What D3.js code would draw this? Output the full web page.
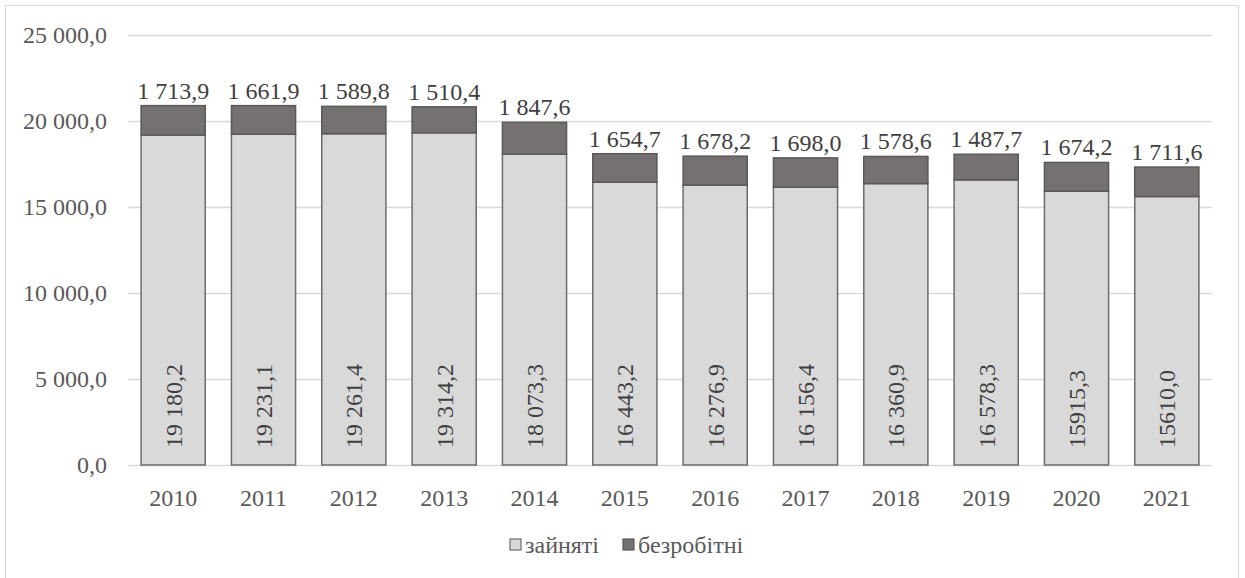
<!DOCTYPE html>
<html lang="uk">
<head>
  <meta charset="utf-8">
  <title>Зайняті та безробітні</title>
  <script src="https://cdn.jsdelivr.net/npm/d3@7"></script>
  <style>
    body { margin: 0; background: #fff; }
    svg text { font-family: "Liberation Serif", "Times New Roman", Times, "DejaVu Serif", serif; fill: #595959; }
  </style>
</head>
<body>
<script>
  var years = ["2010","2011","2012","2013","2014","2015","2016","2017","2018","2019","2020","2021"];
  var employed = [19180.2, 19231.1, 19261.4, 19314.2, 18073.3, 16443.2, 16276.9, 16156.4, 16360.9, 16578.3, 15915.3, 15610.0];
  var unemployed = [1713.9, 1661.9, 1589.8, 1510.4, 1847.6, 1654.7, 1678.2, 1698.0, 1578.6, 1487.7, 1674.2, 1711.6];
  var employedLabels = ["19 180,2","19 231,1","19 261,4","19 314,2","18 073,3","16 443,2","16 276,9","16 156,4","16 360,9","16 578,3","15915,3","15610,0"];
  var unemployedLabels = ["1 713,9","1 661,9","1 589,8","1 510,4","1 847,6","1 654,7","1 678,2","1 698,0","1 578,6","1 487,7","1 674,2","1 711,6"];
  var yTicks = [0, 5000, 10000, 15000, 20000, 25000];
  var tickLabels = ["0,0","5 000,0","10 000,0","15 000,0","20 000,0","25 000,0"];
  var seriesNames = ["зайняті", "безробітні"];

  var width = 1245, height = 578;
  var plotLeft = 128, plotRight = 1212, plotTop = 35, plotBottom = 465;
  var serif = "'Liberation Serif', 'Times New Roman', Times, 'DejaVu Serif', serif";
  var fontSize = "24px";

  var svg = d3.select("body").append("svg")
      .attr("width", width)
      .attr("height", height)
      .style("font-family", serif);

  // outer chart frame
  svg.append("rect")
      .attr("x", 5.5).attr("y", 5.5)
      .attr("width", 1233).attr("height", 620)
      .style("fill", "none").style("stroke", "#d9d9d9");

  var x = d3.scaleBand().domain(years).range([plotLeft, plotRight]).paddingInner(0.29).paddingOuter(0.145);
  var y = d3.scaleLinear().domain([0, 25000]).range([plotBottom, plotTop]);

  // grid
  svg.append("g").selectAll("line").data(yTicks).enter().append("line")
      .attr("x1", plotLeft).attr("x2", plotRight)
      .attr("y1", function(d){ return y(d) + 0.5; })
      .attr("y2", function(d){ return y(d) + 0.5; })
      .style("stroke", "#d9d9d9").style("stroke-width", 1.3);

  svg.append("g").selectAll("text").data(yTicks).enter().append("text")
      .attr("x", 107)
      .attr("y", function(d){ return y(d); })
      .attr("dy", "0.35em")
      .attr("text-anchor", "end")
      .style("font-size", fontSize)
      .text(function(d, i){ return tickLabels[i]; });

  svg.append("g").selectAll("text").data(years).enter().append("text")
      .attr("x", function(d){ return x(d) + x.bandwidth() / 2; })
      .attr("y", 498)
      .attr("dy", "0.35em")
      .attr("text-anchor", "middle")
      .style("font-size", fontSize)
      .text(function(d){ return d; });

  var bars = svg.append("g");
  // employed bars
  bars.selectAll(".emp").data(years).enter().append("rect")
      .attr("class", "emp")
      .attr("x", function(d){ return x(d); })
      .attr("width", x.bandwidth())
      .attr("y", function(d, i){ return y(employed[i]); })
      .attr("height", function(d, i){ return y(0) - y(employed[i]); })
      .style("fill", "#d9d9d9").style("stroke", "#6f6b6b").style("stroke-width", 1.5);

  // unemployed bars
  bars.selectAll(".unemp").data(years).enter().append("rect")
      .attr("class", "unemp")
      .attr("x", function(d){ return x(d); })
      .attr("width", x.bandwidth())
      .attr("y", function(d, i){ return y(employed[i] + unemployed[i]); })
      .attr("height", function(d, i){ return y(employed[i]) - y(employed[i] + unemployed[i]); })
      .style("fill", "#767171").style("stroke", "#595959").style("stroke-width", 1.5);

  // labels inside base, rotated
  svg.append("g").selectAll("text").data(years).enter().append("text")
      .attr("transform", function(d){
        return "translate(" + (x(d) + x.bandwidth() / 2) + "," + (y(0) - 17) + ") rotate(-90)";
      })
      .attr("dy", "0.35em")
      .attr("text-anchor", "start")
      .style("font-size", fontSize)
      .style("fill", "#404040")
      .text(function(d, i){ return employedLabels[i]; });

  // labels above bars
  svg.append("g").selectAll("text").data(years).enter().append("text")
      .attr("x", function(d){ return x(d) + x.bandwidth() / 2; })
      .attr("y", function(d, i){ return y(employed[i] + unemployed[i]) - 7; })
      .attr("text-anchor", "middle")
      .style("font-size", fontSize)
      .style("fill", "#404040")
      .text(function(d, i){ return unemployedLabels[i]; });

  // legend
  var legend = svg.append("g");
  var legendX = [510, 623];
  var legendFill = ["#d9d9d9", "#767171"];
  var legendStroke = ["#6f6b6b", "#595959"];
  seriesNames.forEach(function(name, i){
    legend.append("rect")
        .attr("x", legendX[i]).attr("y", 539)
        .attr("width", 11).attr("height", 11)
        .style("fill", legendFill[i]).style("stroke", legendStroke[i]).style("stroke-width", 1.2);
    legend.append("text")
        .attr("x", legendX[i] + 15).attr("y", 545)
        .attr("dy", "0.35em")
        .style("font-size", fontSize)
        .text(name);
  });
</script>
</body>
</html>
